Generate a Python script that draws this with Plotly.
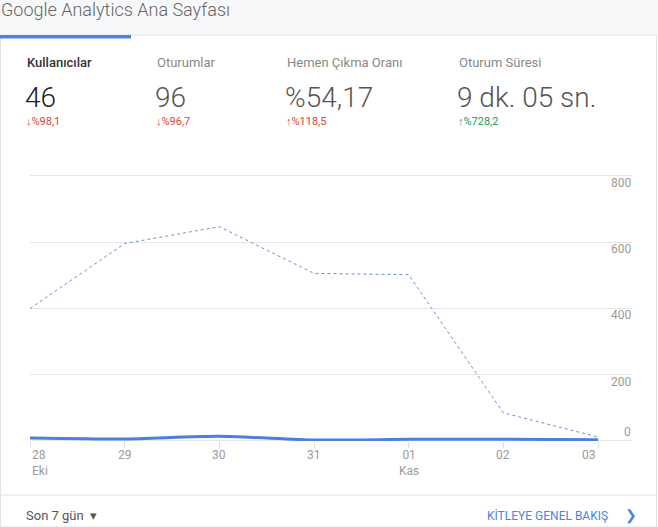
import plotly.graph_objects as go

# chart data
days = ["28", "29", "30", "31", "01", "02", "03"]
months = ["Eki", "", "", "", "Kas", "", ""]
users_now = [9, 6, 14, 3, 5, 5, 4]
users_prev = [400, 596, 647, 506, 502, 85, 12]
y_ticks = [0, 200, 400, 600, 800]

metric_names = ["Kullanıcılar", "Oturumlar", "Hemen Çıkma Oranı", "Oturum Süresi"]
metric_values = ["46", "96", "%54,17", "9 dk. 05 sn."]
metric_changes = ["↓%98,1", "↓%96,7", "↑%118,5", "↑%728,2"]
change_up_good = [False, False, False, True]

W, H = 658, 527
FONT = "Roboto"
BLUE = "#4a80dc"
RED = "#db4437"
GREEN = "#0f9d58"


def px(x):
    return x / W


def py(y):
    return 1 - y / H


x_idx = list(range(len(days)))
unit = (598 - 30) / (len(days) - 1)
x_max = (632 - 30) / unit

# a little headroom above 800 so its gridline is still drawn
y_top = 804
y_top_px = 441 - (441 - 176) * y_top / 800

fig = go.Figure()
fig.add_trace(go.Scatter(
    x=x_idx, y=users_prev, mode="lines",
    line=dict(color="#6f8fcf", width=1, dash="3px,3px"),
    hoverinfo="skip", showlegend=False
))
fig.add_trace(go.Scatter(
    x=x_idx, y=users_now, mode="lines",
    line=dict(color=BLUE, width=3, shape="spline", smoothing=0.6),
    hoverinfo="skip", showlegend=False
))

shapes = [
    # header band
    dict(type="rect", xref="paper", yref="paper", x0=0, x1=1, y0=py(35), y1=1,
         fillcolor="#f7f8fa", line_width=0, layer="below"),
    # card border
    dict(type="rect", xref="paper", yref="paper", x0=px(0.5), x1=px(656.5), y0=py(527), y1=py(35),
         fillcolor="white", line=dict(color="#e3e3e3", width=1), layer="below"),
    # active tab bar
    dict(type="rect", xref="paper", yref="paper", x0=0, x1=px(131), y0=py(38.5), y1=py(35),
         fillcolor="#4a86e0", line_width=0),
    # footer separator
    dict(type="line", xref="paper", yref="paper", x0=px(0.5), x1=px(656.5), y0=py(495), y1=py(495),
         line=dict(color="#e3e3e3", width=1)),
    # gap between plot grid and labels
    dict(type="rect", xref="x", yref="paper", x0=len(days) - 1 + 0.3 / unit, x1=len(days) - 1 + 4 / unit,
         y0=py(445), y1=py(170), fillcolor="white", line_width=0, layer="between"),
]

ann = [dict(text="Google Analytics Ana Sayfası", xref="paper", yref="paper",
            x=px(-1), y=py(9), xanchor="left", yanchor="middle", showarrow=False,
            font=dict(family=FONT, size=18, color="#666666", weight=300))]

metric_x = [25, 155, 285, 457]
for i, name in enumerate(metric_names):
    first = i == 0
    ann.append(dict(text=name, xref="paper", yref="paper", x=px(metric_x[i]), y=py(63),
                    xanchor="left", yanchor="middle", showarrow=False,
                    font=dict(family=FONT, size=13, color="#333" if first else "#888",
                              weight=500 if first else 400)))
    ann.append(dict(text=metric_values[i], xref="paper", yref="paper", x=px(metric_x[i] - 2), y=py(97),
                    xanchor="left", yanchor="middle", showarrow=False,
                    font=dict(family=FONT, size=28, color="#222" if first else "#555", weight=300)))
    good = change_up_good[i]
    ann.append(dict(text=metric_changes[i], xref="paper", yref="paper", x=px(metric_x[i] - 1), y=py(122),
                    xanchor="left", yanchor="middle", showarrow=False,
                    font=dict(family=FONT, size=11, color=GREEN if good else RED)))

for i, d in enumerate(days):
    last = i == len(days) - 1
    anchor = "left" if i == 0 else ("right" if last else "center")
    label = d + ("<br>" + months[i] if months[i] else "")
    ann.append(dict(text=label, xref="x", yref="paper", x=i, y=py(446),
                    xanchor=anchor, yanchor="top", showarrow=False, align="left" if i == 0 else "center",
                    font=dict(family=FONT, size=12, color="#9a9a9a")))

for v in y_ticks:
    ann.append(dict(text=str(v), xref="paper", yref="y", x=px(633), y=v,
                    xanchor="right", yanchor="middle", showarrow=False,
                    yshift=9 if v == 0 else -7,
                    font=dict(family=FONT, size=12, color="#9a9a9a")))

ann.append(dict(text="Son 7 gün  ▾", xref="paper", yref="paper", x=px(24), y=py(515),
                xanchor="left", yanchor="middle", showarrow=False,
                font=dict(family=FONT, size=13, color="#555")))
ann.append(dict(text="KİTLEYE GENEL BAKIŞ", xref="paper", yref="paper", x=px(610), y=py(515),
                xanchor="right", yanchor="middle", showarrow=False,
                font=dict(family=FONT, size=12, color="#4a86e0")))
ann.append(dict(text="❯", xref="paper", yref="paper", x=px(631), y=py(515),
                xanchor="center", yanchor="middle", showarrow=False,
                font=dict(family="DejaVu Sans", size=14, color="#4a86e0")))

fig.update_layout(
    width=W, height=H,
    margin=dict(l=0, r=0, t=0, b=0),
    paper_bgcolor="white", plot_bgcolor="rgba(0,0,0,0)",
    shapes=shapes, annotations=ann,
    xaxis=dict(domain=[px(30), px(632)], range=[0, x_max], showgrid=False, zeroline=False,
               tickvals=x_idx, showticklabels=False, ticks="outside", ticklen=6,
               tickcolor="#dddddd", tickwidth=1, showline=False, fixedrange=True),
    yaxis=dict(domain=[py(441), py(y_top_px)], range=[0, y_top], tickvals=y_ticks, showticklabels=False,
               showgrid=True, gridcolor="#e6e6e6", gridwidth=1, zeroline=True,
               zerolinecolor="#e6e6e6", zerolinewidth=1, fixedrange=True),
)

# page has a default 8px body margin; drop it so the card sits at the corner
fig.write_html("out.html", config={"displayModeBar": False},
               post_script="document.body.style.margin='0';document.body.style.overflow='hidden';")
